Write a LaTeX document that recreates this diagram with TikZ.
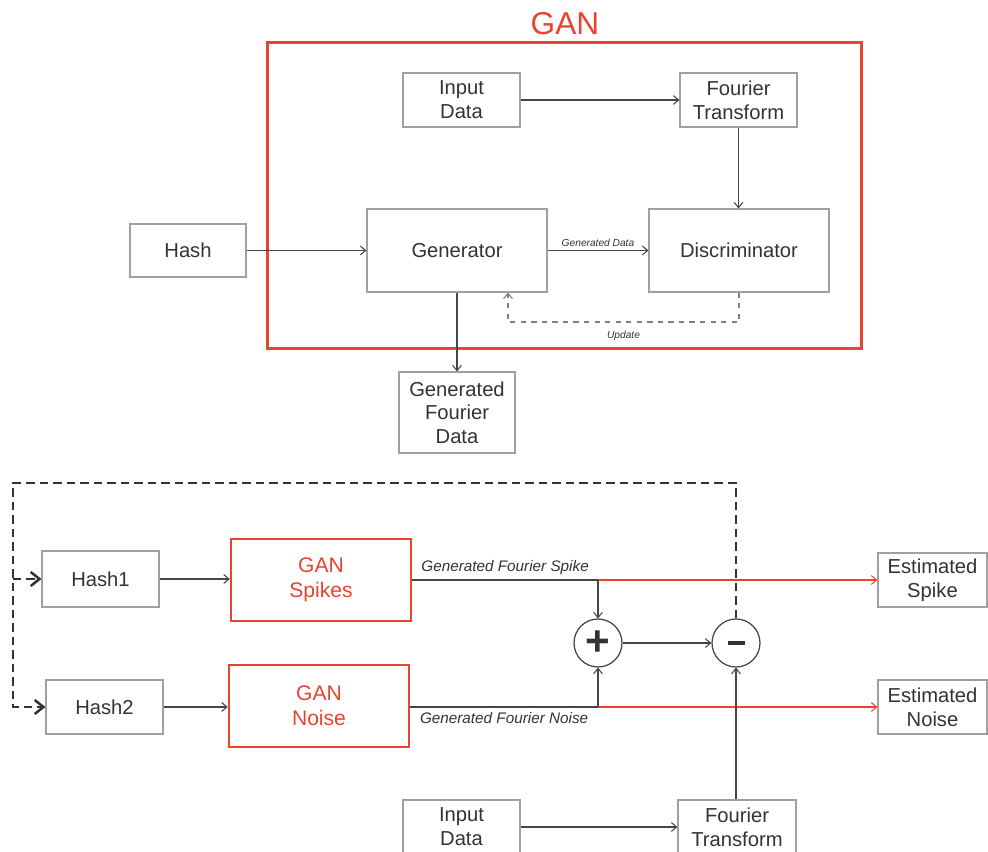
\documentclass[tikz,border=0pt]{standalone}
\usepackage{fontspec}
\setmainfont{Liberation Sans}
\usepackage{xcolor}
\usepackage{tikz}
\usetikzlibrary{arrows.meta,positioning,calc}

\definecolor{ganred}{HTML}{E8442F}
\definecolor{boxgray}{HTML}{A0A0A0}
\definecolor{txtgray}{HTML}{333333}
\definecolor{wiregray}{HTML}{454545}

\tikzset{
    block/.style={draw=boxgray, line width=0.6pt, fill=white, text=txtgray, align=center,
        inner sep=0pt, font=\fontsize{11.5}{13.5}\selectfont},
    ganblock/.style={block, draw=ganred, line width=0.05cm, text=ganred,
        minimum width=3.6cm, minimum height=1.64cm, font=\fontsize{12}{14}\selectfont},
    sumnode/.style={circle, draw=wiregray, line width=0.7pt, fill=white, text=txtgray,
        minimum size=0.96cm, inner sep=0pt},
    wire/.style={draw=wiregray, line width=0.6pt, -{Straight Barb[length=3pt,width=5pt]}},
    redwire/.style={wire, draw=ganred},
    feedback/.style={draw=txtgray, line width=0.056cm, dash pattern=on 0.17cm off 0.1cm,
        -{Straight Barb[length=5pt,width=8pt,line width=0.05cm]}},
    lbl/.style={text=txtgray, font=\fontsize{5.8}{7}\itshape, inner sep=2pt},
    biglbl/.style={text=txtgray, font=\fontsize{8.7}{10}\itshape, inner sep=3pt}
}

\begin{document}
\begin{tikzpicture}[x=0.02cm, y=-0.02cm]
\clip (0,0) rectangle (988,852);

% GAN block
\node[text=ganred, font=\fontsize{18}{20}\selectfont] (gantitle) at (565,24) {GAN};
\node[draw=ganred, line width=0.06cm, minimum width=11.9cm, minimum height=6.14cm,
    inner sep=0pt] (ganframe) at (564.5,195.5) {};

\node[block, minimum width=2.34cm, minimum height=1.08cm] (indata) at (461.5,100) {Input\\Data};
\node[block, minimum width=2.34cm, minimum height=1.08cm] (fourier) at (738.5,100) {Fourier\\Transform};
\node[block, minimum width=2.32cm, minimum height=1.06cm] (hash) at (188,250.5) {Hash};
\node[block, minimum width=3.6cm, minimum height=1.66cm] (gen) at (457,250.5) {Generator};
\node[block, minimum width=3.6cm, minimum height=1.66cm] (disc) at (739,250.5) {Discriminator};
\node[block, minimum width=2.32cm, minimum height=1.62cm] (gfdata) at (457,412.5) {Generated\\Fourier\\Data};

\draw[wire] (indata) -- (fourier);
\draw[wire] (fourier.south) -- (fourier.south |- disc.north);
\draw[wire] (hash) -- (gen);
\draw[wire] (gen) -- node[lbl, above] (gdlbl) {Generated Data} (disc);
\draw[wire] (gen.south) -- (gfdata.north);

% update loop
\coordinate (updR) at (739,322);
\coordinate (updL) at (508,322);
\draw[wire, dashed, draw=gray] (disc.south -| updR) -- (updR) -- node[lbl, below=3pt] (updlbl) {Update} (updL) -- (updL |- gen.south);

% Estimation stage
\node[block, minimum width=2.34cm, minimum height=1.12cm] (hash1) at (100.5,579) {Hash1};
\node[block, minimum width=2.34cm, minimum height=1.08cm] (hash2) at (104.5,707) {Hash2};
\node[ganblock] (spikes) at (321,580) {GAN\\Spikes};
\node[ganblock] (noise) at (319,706) {GAN\\Noise};
\node[block, minimum width=2.18cm, minimum height=1.08cm] (estspike) at (932.5,580) {Estimated\\Spike};
\node[block, minimum width=2.18cm, minimum height=1.08cm] (estnoise) at (932.5,707) {Estimated\\Noise};
\node[sumnode, font=\fontsize{24}{24}\bfseries] (plus) at (598,643) {+};
\node[sumnode] (minus) at (736,643) {\color{txtgray}\rule[-0.035cm]{0.34cm}{0.07cm}};
\node[block, minimum width=2.34cm, minimum height=1.08cm] (indata2) at (461.5,827) {Input\\Data};
\node[block, minimum width=2.36cm, minimum height=1.08cm] (fourier2) at (737,827) {Fourier\\Transform};

\draw[wire] (hash1) -- (hash1 -| spikes.west);
\draw[wire] (hash2) -- (hash2 -| noise.west);

\coordinate (sj) at (598,580);
\coordinate (nj) at (598,707);
\draw[wire, -] (spikes.east |- sj) -- node[biglbl, above] (gfslbl) {Generated Fourier Spike} (sj);
\draw[wire, -] (noise.east |- nj) -- node[biglbl, below] (gfnlbl) {Generated Fourier Noise} (nj);
\draw[redwire] (sj) -- (estspike.west |- sj);
\draw[redwire] (nj) -- (estnoise.west |- nj);
\draw[wire] (sj) -- (plus.north);
\draw[wire] (nj) -- (plus.south);
\draw[wire] (plus) -- (minus);
\draw[wire] (indata2) -- (fourier2);
\draw[wire] (fourier2.north -| minus) -- (minus.south);

% feedback to the hashes
\coordinate (fbtop) at (736,483);
\coordinate (fbleft) at (13,483);
\draw[feedback] (minus.north) -- (fbtop) -- (fbleft) |- (hash2.west);
\draw[feedback] (fbleft |- hash1.west) -- (hash1.west);

\end{tikzpicture}
\end{document}
